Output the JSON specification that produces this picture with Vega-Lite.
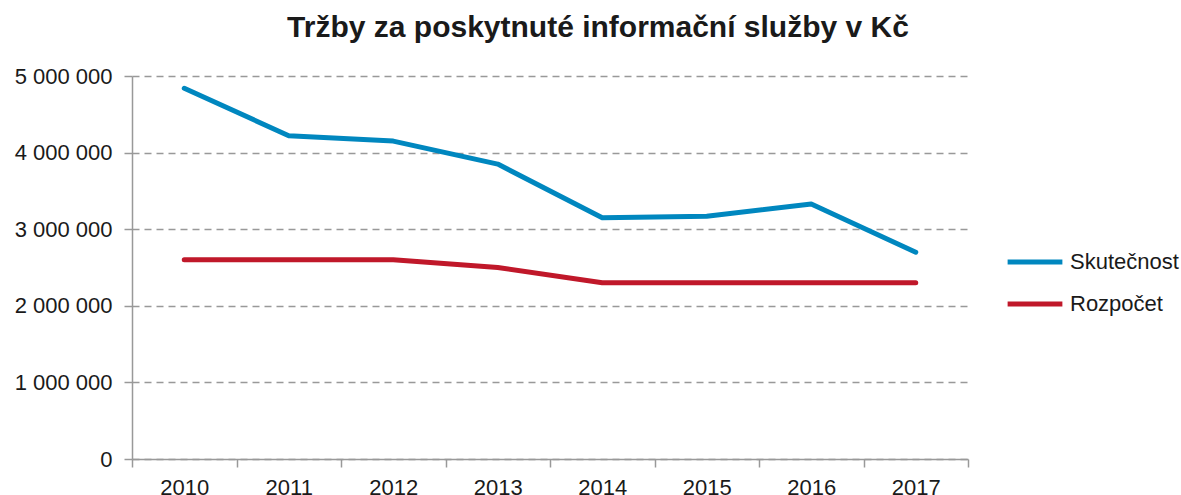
{
  "$schema": "https://vega.github.io/schema/vega-lite/v6.json",
  "width": 836,
  "height": 383,
  "autosize": {"type": "none"},
  "padding": {"left": 132, "top": 76, "right": 213, "bottom": 36},
  "background": "white",
  "config": {
    "view": {"stroke": null},
    "font": "Liberation Sans",
    "locale": {"number": {"decimal": ",", "thousands": " ", "grouping": [3], "currency": ["", " Kč"]}}
  },
  "title": {
    "text": "Tržby za poskytnuté informační služby v Kč",
    "fontSize": 30,
    "fontWeight": "bold",
    "font": "Liberation Sans",
    "color": "#1a1a1a",
    "anchor": "middle",
    "offset": 22,
    "dx": 48
  },
  "data": {
    "values": [
      {"rok": "2010", "typ": "Skutečnost", "hodnota": 4840000},
      {"rok": "2011", "typ": "Skutečnost", "hodnota": 4220000},
      {"rok": "2012", "typ": "Skutečnost", "hodnota": 4150000},
      {"rok": "2013", "typ": "Skutečnost", "hodnota": 3850000},
      {"rok": "2014", "typ": "Skutečnost", "hodnota": 3150000},
      {"rok": "2015", "typ": "Skutečnost", "hodnota": 3170000},
      {"rok": "2016", "typ": "Skutečnost", "hodnota": 3330000},
      {"rok": "2017", "typ": "Skutečnost", "hodnota": 2700000},
      {"rok": "2010", "typ": "Rozpočet", "hodnota": 2600000},
      {"rok": "2011", "typ": "Rozpočet", "hodnota": 2600000},
      {"rok": "2012", "typ": "Rozpočet", "hodnota": 2600000},
      {"rok": "2013", "typ": "Rozpočet", "hodnota": 2500000},
      {"rok": "2014", "typ": "Rozpočet", "hodnota": 2300000},
      {"rok": "2015", "typ": "Rozpočet", "hodnota": 2300000},
      {"rok": "2016", "typ": "Rozpočet", "hodnota": 2300000},
      {"rok": "2017", "typ": "Rozpočet", "hodnota": 2300000}
    ]
  },
  "mark": {"type": "line", "strokeWidth": 5, "strokeCap": "round", "strokeJoin": "round"},
  "encoding": {
    "x": {
      "field": "rok",
      "type": "ordinal",
      "scale": {"type": "band", "paddingInner": 0, "paddingOuter": 0},
      "axis": {
        "title": null,
        "labelAngle": 0,
        "tickBand": "extent",
        "labelFontSize": 22,
        "labelColor": "#1a1a1a",
        "labelPadding": 10,
        "domainColor": "#999999",
        "domainWidth": 1.5,
        "tickColor": "#999999",
        "tickWidth": 1.5,
        "tickSize": 8,
        "grid": false
      }
    },
    "y": {
      "field": "hodnota",
      "type": "quantitative",
      "scale": {"domain": [0, 5000000], "nice": false},
      "axis": {
        "title": null,
        "values": [0, 1000000, 2000000, 3000000, 4000000, 5000000],
        "format": ",d",
        "labelFontSize": 22,
        "labelColor": "#1a1a1a",
        "labelPadding": 12,
        "domainColor": "#999999",
        "domainWidth": 1.5,
        "tickColor": "#999999",
        "tickWidth": 1.5,
        "tickSize": 8,
        "grid": true,
        "gridColor": "#999999",
        "gridWidth": 1.5,
        "gridDash": [7, 5]
      }
    },
    "color": {
      "field": "typ",
      "type": "nominal",
      "scale": {"domain": ["Skutečnost", "Rozpočet"], "range": ["#0087BF", "#C0182A"]},
      "legend": {
        "title": null,
        "orient": "none",
        "legendX": 873,
        "legendY": 156,
        "symbolType": "stroke",
        "symbolSize": 3000,
        "symbolStrokeWidth": 5,
        "labelFontSize": 22,
        "labelColor": "#1a1a1a",
        "rowPadding": 1,
        "labelOffset": 5
      }
    }
  }
}
